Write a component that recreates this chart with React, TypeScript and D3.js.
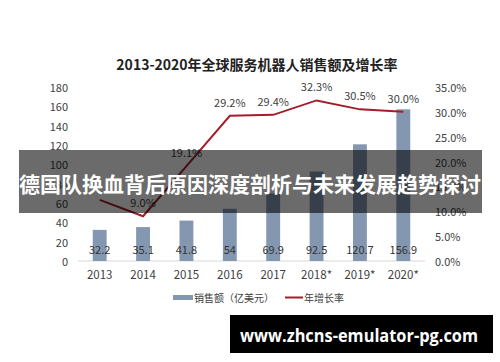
import React from "react";
import * as d3 from "d3";

const years = ["2013", "2014", "2015", "2016", "2017", "2018*", "2019*", "2020*"];
const sales = [32.2, 35.1, 41.8, 54, 69.9, 92.5, 120.7, 156.9];
const growth = [12.3, 9.0, 19.1, 29.2, 29.4, 32.3, 30.5, 30.0];
const growthLabels = ["", "9.0%", "19.1%", "29.2%", "29.4%", "32.3%", "30.5%", "30.0%"];
const leftTicks = [0, 20, 40, 60, 80, 100, 120, 140, 160, 180];
const rightTicks = [0, 5, 10, 15, 20, 25, 30, 35];

const W = 500;
const H = 362;
const FONT = "'Noto Sans CJK SC', 'Noto Sans', sans-serif";

export default function App() {
  const x = d3.scaleBand<string>().domain(years).range([78, 425]).paddingInner(0.68).paddingOuter(0.34);
  const yL = d3.scaleLinear().domain([0, 180]).range([261, 87]);
  const yR = d3.scaleLinear().domain([0, 35]).range([261, 87]);
  const cx = (d: string) => (x(d) ?? 0) + x.bandwidth() / 2;
  const line = d3
    .line<number>()
    .x((_, i) => cx(years[i]))
    .y((d) => yR(d));

  return (
    <svg width={W} height={H} style={{ position: "absolute", left: 0, top: 0, background: "#fff" }} fontFamily={FONT}>
      <rect x={0} y={0} width={W} height={H} fill="#fff" />
      <text x={257} y={64} textAnchor="middle" dominantBaseline="central" fontSize={14} fontWeight="bold" fill="#222">
        2013-2020年全球服务机器人销售额及增长率
      </text>

      {leftTicks.map((t) => (
        <text key={"l" + t} x={68} y={yL(t)} textAnchor="end" dominantBaseline="central" fontSize={11} fill="#404040">
          {t}
        </text>
      ))}
      {rightTicks.map((t) => (
        <text key={"r" + t} x={435} y={yR(t)} textAnchor="start" dominantBaseline="central" fontSize={11} fill="#404040">
          {t.toFixed(1) + "%"}
        </text>
      ))}

      <line x1={78} x2={425} y1={yL(0)} y2={yL(0)} stroke="#d9d9d9" strokeWidth={1} />

      {years.map((yr, i) => (
        <rect key={"b" + yr} x={x(yr)} y={yL(sales[i])} width={x.bandwidth()} height={yL(0) - yL(sales[i])} fill="#8497b0" />
      ))}
      {years.map((yr, i) => (
        <text key={"v" + yr} x={cx(yr)} y={249} textAnchor="middle" dominantBaseline="central" fontSize={11} fill="#333">
          {sales[i]}
        </text>
      ))}
      {years.map((yr) => (
        <text key={"x" + yr} x={cx(yr)} y={274} textAnchor="middle" dominantBaseline="central" fontSize={11.5} fill="#404040">
          {yr}
        </text>
      ))}

      <path d={line(growth) ?? ""} fill="none" stroke="#a31e2a" strokeWidth={2} />
      {years.map((yr, i) =>
        growthLabels[i] ? (
          <text key={"g" + yr} x={cx(yr)} y={yR(growth[i]) - 14} textAnchor="middle" dominantBaseline="central" fontSize={11} fill="#404040">
            {growthLabels[i]}
          </text>
        ) : null
      )}

      <rect x={173} y={295} width={20} height={5} fill="#8497b0" />
      <text x={194} y={297.5} dominantBaseline="central" fontSize={10} fill="#404040">
        销售额（亿美元）
      </text>
      <line x1={285} x2={303} y1={297.5} y2={297.5} stroke="#a31e2a" strokeWidth={2} />
      <text x={304} y={297.5} dominantBaseline="central" fontSize={10} fill="#404040">
        年增长率
      </text>

      <rect x={19} y={150} width={463} height={63} fill="#000" fillOpacity={0.58} />
      <text x={250} y={183} textAnchor="middle" dominantBaseline="central" fontSize={21} fontWeight="bold" fill="#fff">
        德国队换血背后原因深度剖析与未来发展趋势探讨
      </text>

      <rect x={230} y={315} width={263} height={38} fill="#000" />
      <text x={359} y={335} textAnchor="middle" dominantBaseline="central" fontSize={17} fontWeight="bold" fill="#fff" fontFamily="'Open Sans', 'Noto Sans', sans-serif" textLength={238} lengthAdjust="spacingAndGlyphs">
        www.zhcns-emulator-pg.com
      </text>
    </svg>
  );
}
